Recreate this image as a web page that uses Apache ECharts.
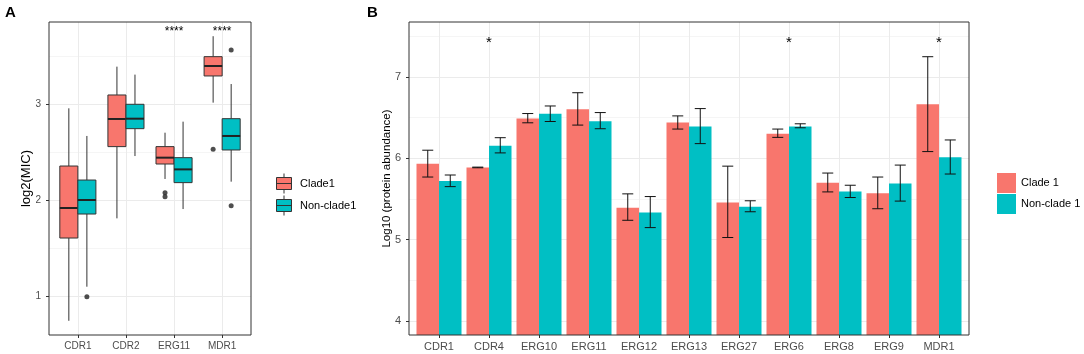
<!DOCTYPE html>
<html>
<head>
<meta charset="utf-8">
<script src="https://cdn.jsdelivr.net/npm/echarts@6/dist/echarts.min.js"></script>
<style>
  html, body { margin: 0; padding: 0; background: #fff; }
  #main { width: 1084px; height: 354px; }
</style>
</head>
<body>
<div id="main"></div>
<script>
// panel A: log2(MIC) boxplots
var genesA = ['CDR1', 'CDR2', 'ERG11', 'MDR1'];
// [lower whisker, Q1, median, Q3, upper whisker]
var clade1Box = [
  [0.742, 1.604, 1.917, 2.354, 2.955],
  [1.809, 2.556, 2.844, 3.094, 3.389],
  [2.219, 2.375, 2.441, 2.556, 2.701],
  [3.014, 3.292, 3.396, 3.493, 3.706]
];
var nonClade1Box = [
  [1.097, 1.854, 2.000, 2.208, 2.667],
  [2.458, 2.743, 2.847, 2.997, 3.306],
  [1.906, 2.181, 2.319, 2.441, 2.816],
  [2.191, 2.521, 2.667, 2.847, 3.208]
];
// [gene index, value]
var clade1Outliers = [[2, 2.076], [2, 2.035], [3, 2.528]];
var nonClade1Outliers = [[0, 0.993], [3, 3.563], [3, 1.941]];
var sigA = [[2, 3.75, '****'], [3, 3.75, '****']];

// panel B: protein abundance
var genesB = ['CDR1', 'CDR4', 'ERG10', 'ERG11', 'ERG12', 'ERG13', 'ERG27', 'ERG6', 'ERG8', 'ERG9', 'MDR1'];
var clade1Mean = [5.931, 5.886, 6.488, 6.602, 5.390, 6.439, 5.455, 6.301, 5.699, 5.569, 6.663];
var clade1Lo   = [5.768, 5.882, 6.435, 6.407, 5.236, 6.358, 5.024, 6.256, 5.585, 5.378, 6.081];
var clade1Hi   = [6.098, 5.890, 6.549, 6.805, 5.561, 6.520, 5.902, 6.358, 5.817, 5.768, 7.248];
var nonMean    = [5.720, 6.154, 6.545, 6.455, 5.333, 6.390, 5.402, 6.390, 5.589, 5.687, 6.012];
var nonLo      = [5.650, 6.065, 6.451, 6.362, 5.146, 6.179, 5.341, 6.374, 5.516, 5.472, 5.805];
var nonHi      = [5.793, 6.252, 6.642, 6.561, 5.528, 6.610, 5.476, 6.423, 5.667, 5.915, 6.224];
var sigB = [[1, 7.42, '*'], [7, 7.42, '*'], [10, 7.42, '*']];

var RED = '#F8766D', TEAL = '#00BFC4';
var FONT = '"Liberation Sans", Arial, sans-serif';
var BOX_DODGE = 0.1875, BOX_W = 0.375;
var BAR_W = 0.45, CAP_W = 0.22;

var chart = echarts.init(document.getElementById('main'));

function range(n) { var r = []; for (var i = 0; i < n; i++) r.push(i); return r; }

// boxplot drawn with custom series so the dodge matches ggplot
function boxRender(offset, color) {
  return function (params, api) {
    var x = api.value(0) + offset;
    var lo = api.coord([x, api.value(1)]);
    var q1 = api.coord([x, api.value(2)]);
    var md = api.coord([x, api.value(3)]);
    var q3 = api.coord([x, api.value(4)]);
    var hi = api.coord([x, api.value(5)]);
    var half = api.size([BOX_W, 0])[0] / 2;
    var ln = { stroke: '#333', lineWidth: 1 };
    return {
      type: 'group',
      children: [
        { type: 'line', shape: { x1: lo[0], y1: lo[1], x2: q1[0], y2: q1[1] }, style: ln },
        { type: 'line', shape: { x1: q3[0], y1: q3[1], x2: hi[0], y2: hi[1] }, style: ln },
        { type: 'rect', shape: { x: q3[0] - half, y: q3[1], width: half * 2, height: q1[1] - q3[1] },
          style: { fill: color, stroke: '#333', lineWidth: 1 } },
        { type: 'line', shape: { x1: md[0] - half, y1: md[1], x2: md[0] + half, y2: md[1] },
          style: { stroke: '#222', lineWidth: 2 } }
      ]
    };
  };
}

function barRender(offset) {
  return function (params, api) {
    var x = api.value(0);
    var left = api.coord([x + offset, api.value(1)]);
    var right = api.coord([x + offset + BAR_W, api.value(1)]);
    var bottom = params.coordSys.y + params.coordSys.height;
    return {
      type: 'rect',
      shape: { x: left[0], y: left[1], width: right[0] - left[0], height: bottom - left[1] },
      style: { fill: api.visual('color') }
    };
  };
}

function errRender(offset) {
  return function (params, api) {
    var x = api.value(0) + offset;
    var lo = api.coord([x, api.value(1)]);
    var hi = api.coord([x, api.value(2)]);
    var half = api.size([CAP_W, 0])[0] / 2;
    var st = { stroke: '#111', lineWidth: 1 };
    return {
      type: 'group',
      children: [
        { type: 'line', shape: { x1: lo[0], y1: lo[1], x2: hi[0], y2: hi[1] }, style: st },
        { type: 'line', shape: { x1: lo[0] - half, y1: lo[1], x2: lo[0] + half, y2: lo[1] }, style: st },
        { type: 'line', shape: { x1: hi[0] - half, y1: hi[1], x2: hi[0] + half, y2: hi[1] }, style: st }
      ]
    };
  };
}

function sigRender(size) {
  return function (params, api) {
    var p = api.coord([api.value(0), api.value(1)]);
    return {
      type: 'text', x: p[0], y: p[1],
      style: { text: api.value(2), fill: '#000', fontSize: size, fontFamily: FONT,
               textAlign: 'center', textVerticalAlign: 'middle' }
    };
  };
}

function catAxis(grid, names) {
  var ticks = range(names.length);
  return {
    type: 'value', gridIndex: grid, min: -0.6, max: names.length - 0.4,
    axisLine: { show: false, onZero: false },
    axisTick: { customValues: ticks, length: 3, lineStyle: { color: '#333' } },
    axisLabel: { customValues: ticks, margin: 6, fontSize: grid === 0 ? 10 : 11, color: '#4D4D4D', fontFamily: FONT,
      formatter: function (v) { return names[Math.round(v)]; } },
    splitLine: { show: true, lineStyle: { color: '#EBEBEB', width: 1 } }
  };
}

function valAxis(grid, min, max, major, name, fontSize, gap) {
  return {
    type: 'value', gridIndex: grid, min: min, max: max,
    name: name, nameLocation: 'middle', nameGap: gap, nameMoveOverlap: false,
    nameTextStyle: { color: '#000', fontSize: fontSize, fontFamily: FONT },
    axisLine: { show: false, onZero: false },
    axisTick: { customValues: major, length: 3, lineStyle: { color: '#333' } },
    axisLabel: { customValues: major, margin: 8, fontSize: grid === 0 ? 10 : 11, color: '#4D4D4D', fontFamily: FONT },
    splitLine: { show: true, lineStyle: { color: '#EBEBEB', width: 1 } }
  };
}

function minorAxis(grid, min, max, minor) {
  return {
    type: 'value', gridIndex: grid, min: min, max: max, position: 'left',
    axisLine: { show: false, onZero: false },
    axisTick: { show: false, customValues: minor },
    axisLabel: { show: false, customValues: minor },
    splitLine: { show: true, lineStyle: { color: '#EFEFEF', width: 0.6 } }
  };
}

var boxPathIcon = 'path://M7.5,0L7.5,4M0,4L15,4L15,16L0,16ZM0,10L15,10M7.5,16L7.5,20';

var option = {
  backgroundColor: '#fff',
  animation: false,
  textStyle: { fontFamily: FONT },
  title: [
    { text: 'A', left: 5, top: 5, padding: 0, textStyle: { fontSize: 15, fontWeight: 'bold', color: '#000', fontFamily: FONT } },
    { text: 'B', left: 367, top: 5, padding: 0, textStyle: { fontSize: 15, fontWeight: 'bold', color: '#000', fontFamily: FONT } }
  ],
  grid: [
    { left: 49, top: 22, width: 202, height: 313, show: true, z: 10, backgroundColor: 'transparent', borderColor: '#333', borderWidth: 1 },
    { left: 409, top: 22, width: 560, height: 313, show: true, z: 10, backgroundColor: 'transparent', borderColor: '#333', borderWidth: 1 }
  ],
  legend: [
    {
      orient: 'vertical', left: 271, top: 168, itemWidth: 22, itemHeight: 20, itemGap: 1,
      data: [{ name: 'Clade1', icon: boxPathIcon }, { name: 'Non-clade1', icon: boxPathIcon }],
      itemStyle: { borderColor: '#333', borderWidth: 1 },
      textStyle: { fontSize: 11, color: '#000', fontFamily: FONT }
    },
    {
      orient: 'vertical', left: 992, top: 168, itemWidth: 19, itemHeight: 20, itemGap: 1,
      data: [{ name: 'Clade 1', icon: 'rect' }, { name: 'Non-clade 1', icon: 'rect' }],
      itemStyle: { borderWidth: 0 },
      textStyle: { fontSize: 11, color: '#000', fontFamily: FONT }
    }
  ],
  xAxis: [catAxis(0, genesA), catAxis(1, genesB)],
  yAxis: [
    valAxis(0, 0.594, 3.854, [1, 2, 3], 'log2(MIC)', 13, 16),
    minorAxis(0, 0.594, 3.854, [1.5, 2.5, 3.5]),
    valAxis(1, 3.825, 7.675, [4, 5, 6, 7], 'Log10 (protein abundance)', 11.5, 16),
    minorAxis(1, 3.825, 7.675, [4.5, 5.5, 6.5, 7.5])
  ],
  series: [
    {
      name: 'Clade1', type: 'custom', xAxisIndex: 0, yAxisIndex: 0,
      itemStyle: { color: RED },
      renderItem: boxRender(-BOX_DODGE, RED),
      data: clade1Box.map(function (b, i) { return [i].concat(b); })
    },
    {
      name: 'Non-clade1', type: 'custom', xAxisIndex: 0, yAxisIndex: 0,
      itemStyle: { color: TEAL },
      renderItem: boxRender(BOX_DODGE, TEAL),
      data: nonClade1Box.map(function (b, i) { return [i].concat(b); })
    },
    {
      name: 'outliers A1', type: 'scatter', xAxisIndex: 0, yAxisIndex: 0,
      symbolSize: 5, itemStyle: { color: '#222' },
      data: clade1Outliers.map(function (o) { return [o[0] - BOX_DODGE, o[1]]; })
    },
    {
      name: 'outliers A2', type: 'scatter', xAxisIndex: 0, yAxisIndex: 0,
      symbolSize: 5, itemStyle: { color: '#222' },
      data: nonClade1Outliers.map(function (o) { return [o[0] + BOX_DODGE, o[1]]; })
    },
    {
      name: 'sig A', type: 'custom', xAxisIndex: 0, yAxisIndex: 0,
      renderItem: sigRender(12), data: sigA
    },
    {
      name: 'Clade 1', type: 'custom', xAxisIndex: 1, yAxisIndex: 2,
      itemStyle: { color: RED },
      renderItem: barRender(-BAR_W),
      data: clade1Mean.map(function (v, i) { return [i, v]; })
    },
    {
      name: 'Non-clade 1', type: 'custom', xAxisIndex: 1, yAxisIndex: 2,
      itemStyle: { color: TEAL },
      renderItem: barRender(0),
      data: nonMean.map(function (v, i) { return [i, v]; })
    },
    {
      name: 'err 1', type: 'custom', xAxisIndex: 1, yAxisIndex: 2, z: 5,
      renderItem: errRender(-BAR_W / 2),
      data: clade1Lo.map(function (v, i) { return [i, v, clade1Hi[i]]; })
    },
    {
      name: 'err 2', type: 'custom', xAxisIndex: 1, yAxisIndex: 2, z: 5,
      renderItem: errRender(BAR_W / 2),
      data: nonLo.map(function (v, i) { return [i, v, nonHi[i]]; })
    },
    {
      name: 'sig B', type: 'custom', xAxisIndex: 1, yAxisIndex: 2,
      renderItem: sigRender(15), data: sigB
    }
  ]
};

chart.setOption(option);
</script>
</body>
</html>
